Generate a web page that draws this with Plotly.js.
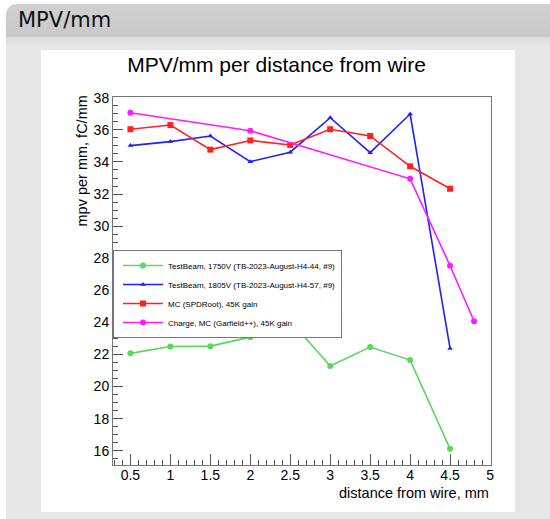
<!DOCTYPE html>
<html>
<head>
<meta charset="utf-8">
<script src="https://cdn.plot.ly/plotly-3.0.1.min.js"></script>
<style>
  html, body { margin: 0; padding: 0; background: #ffffff; width: 550px; height: 519px; overflow: hidden; }
  #panel { position: absolute; left: 6px; top: 4px; width: 560px; height: 530px; background: #e6e6e6; border-radius: 11px; overflow: hidden; }
  #header { position: absolute; left: 0; top: 0; width: 100%; height: 33px; background: linear-gradient(#d0d0d0, #c9c9c9); }
  #header span { position: absolute; left: 12px; top: 4px; font-family: "DejaVu Sans", sans-serif; font-size: 21px; color: #111; line-height: 25px; }
  #band { position: absolute; left: 0; top: 33px; width: 100%; height: 10px; background: linear-gradient(#dcdcdc, #e6e6e6); }
  #chart { position: absolute; left: 41px; top: 50px; width: 474px; height: 462px; background: #fff; }
</style>
</head>
<body>
<div id="panel"><div id="header"><span>MPV/mm</span></div><div id="band"></div></div>
<div id="chart"></div>
<script>
// ---- data ----
const chartTitle = "MPV/mm per distance from wire";
const xTitle = "distance from wire, mm";
const yTitle = "mpv per mm, fC/mm";

const tb1750Name = "TestBeam, 1750V (TB-2023-August-H4-44, #9)";
const tb1750X = [0.5, 1.0, 1.5, 2.0, 2.5, 3.0, 3.5, 4.0, 4.5];
const tb1750Y = [22.07, 22.50, 22.52, 23.08, 24.10, 21.28, 22.46, 21.65, 16.12];

const tb1805Name = "TestBeam, 1805V (TB-2023-August-H4-57, #9)";
const tb1805X = [0.5, 1.0, 1.5, 2.0, 2.5, 3.0, 3.5, 4.0, 4.5];
const tb1805Y = [35.02, 35.27, 35.62, 34.02, 34.61, 36.76, 34.58, 36.99, 22.37];

const mcSpdName = "MC (SPDRoot), 45K gain";
const mcSpdX = [0.5, 1.0, 1.5, 2.0, 2.5, 3.0, 3.5, 4.0, 4.5];
const mcSpdY = [36.04, 36.30, 34.77, 35.34, 35.06, 36.04, 35.62, 33.73, 32.33];

const mcGarName = "Charge, MC (Garfield++), 45K gain";
const mcGarX = [0.5, 2.0, 4.0, 4.5, 4.8];
const mcGarY = [37.07, 35.95, 32.95, 27.53, 24.07];

const xRange = [0.282, 5.012];
const yRange = [15.11, 38.05];

// ---- plot ----
const font = "Liberation Sans, Arial, Helvetica, sans-serif";
function series(name, x, y, color, symbol, size) {
  return {
    type: "scatter", mode: "lines+markers", name: name, x: x, y: y,
    line: { color: color, width: 1.6 },
    marker: { color: color, symbol: symbol, size: size },
    hoverinfo: "x+y"
  };
}
const traces = [
  series(tb1750Name, tb1750X, tb1750Y, "#5cd65c", "circle", 6),
  series(tb1805Name, tb1805X, tb1805Y, "#1f1fff", "triangle-up", 5),
  series(mcSpdName, mcSpdX, mcSpdY, "#ff2020", "square", 6),
  series(mcGarName, mcGarX, mcGarY, "#ff1aff", "circle", 6)
];

const layout = {
  width: 474, height: 462,
  margin: { l: 72, r: 24, t: 47, b: 47, pad: 0 },
  paper_bgcolor: "#ffffff", plot_bgcolor: "#ffffff",
  font: { family: font, size: 14, color: "#000" },
  showlegend: true,
  title: { text: chartTitle, font: { family: font, size: 21, color: "#000" },
           xref: "container", x: 0.497, xanchor: "center",
           yref: "container", y: 1 - 15 / 462, yanchor: "middle" },
  xaxis: {
    range: xRange, showgrid: false, zeroline: false,
    showline: true, mirror: true, linecolor: "#777", linewidth: 1,
    ticks: "inside", ticklen: 11, tickcolor: "#555", tickwidth: 1,
    ticklabelstandoff: -3,
    tick0: 0.5, dtick: 0.5, tickfont: { family: font, size: 14, color: "#000" },
    minor: { ticks: "inside", ticklen: 5.5, tickcolor: "#555", dtick: 0.1, tick0: 0.5, showgrid: false }
  },
  yaxis: {
    range: yRange, showgrid: false, zeroline: false,
    showline: true, mirror: true, linecolor: "#777", linewidth: 1,
    ticks: "inside", ticklen: 10, tickcolor: "#555", tickwidth: 1,
    tick0: 16, dtick: 2, tickfont: { family: font, size: 14, color: "#000" },
    minor: { ticks: "inside", ticklen: 5, tickcolor: "#555", dtick: 0.5, tick0: 16, showgrid: false }
  },
  legend: {
    x: 0, xref: "paper", xanchor: "left",
    y: (465 - 250) / 368, yref: "paper", yanchor: "top",
    bgcolor: "#ffffff", bordercolor: "#777", borderwidth: 1,
    font: { family: font, size: 8, color: "#000" },
    itemwidth: 40, tracegroupgap: 0, indentation: 4
  },
  annotations: [
    { text: xTitle, xref: "paper", yref: "paper", x: 1, xanchor: "right",
      y: (465 - 493) / 368, yanchor: "middle", showarrow: false,
      font: { family: font, size: 14.5, color: "#000" } },
    { text: yTitle, xref: "paper", yref: "paper", x: (81 - 113) / 378, xanchor: "center",
      y: (465 - 161.5) / 368, yanchor: "middle", textangle: -90, showarrow: false,
      font: { family: font, size: 14.5, color: "#000" } }
  ]
};

Plotly.newPlot("chart", traces, layout, { staticPlot: true, displayModeBar: false });
</script>
</body>
</html>
